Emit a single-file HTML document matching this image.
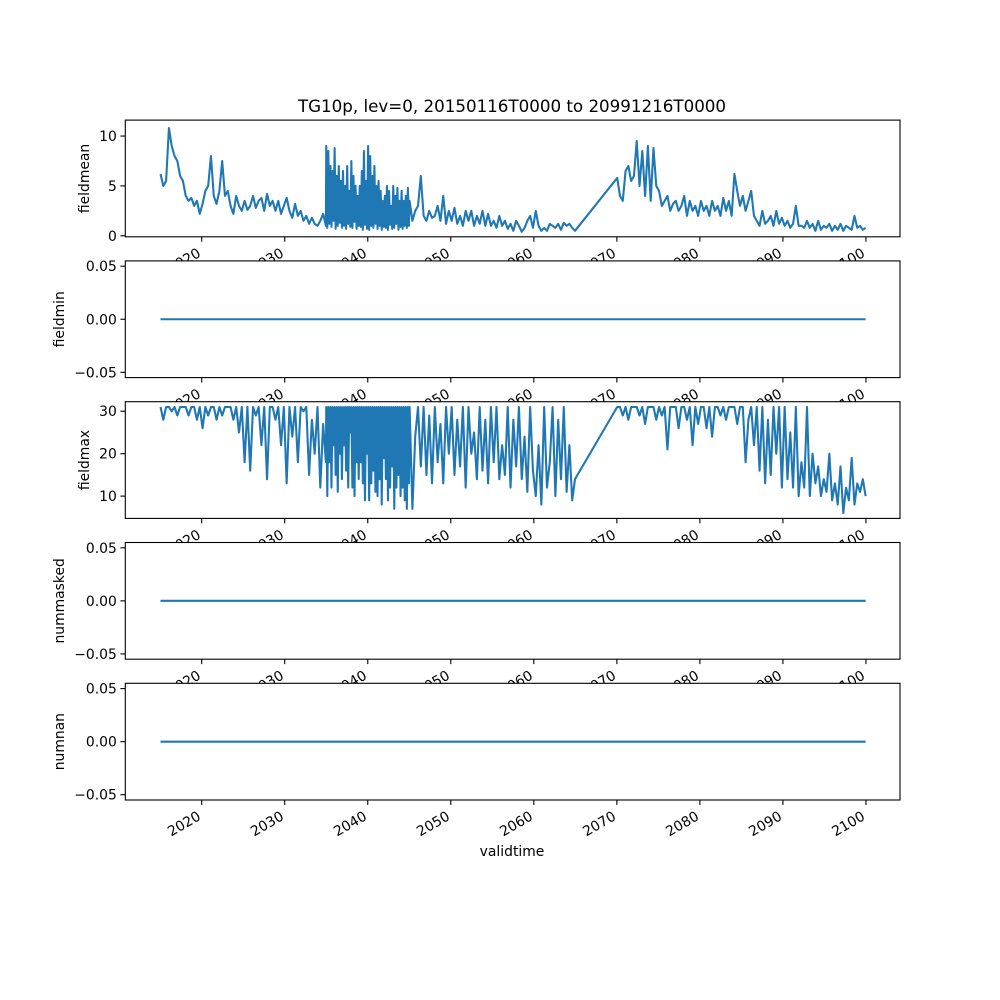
<!DOCTYPE html>
<html><head><meta charset="utf-8"><style>
html,body{margin:0;padding:0;background:#fff}
svg{display:block;font-family:"DejaVu Sans","Liberation Sans",sans-serif}
</style></head><body>
<svg id="fig" width="1000" height="1000" viewBox="0 0 1000 1000">
<rect width="1000" height="1000" fill="#fff"/>
<text x="512" y="112" font-size="16.7" text-anchor="middle">TG10p, lev=0, 20150116T0000 to 20991216T0000</text>
</svg>
<script>
const xTicks = [2020,2030,2040,2050,2060,2070,2080,2090,2100];
const spanA = [2015.04, 2034.96];
const spanB = [2035.0, 2044.96];
const spanC = [2045.04, 2064.96];
const span2 = [2070.04, 2099.96];
const meanA = [6.2,5.0,5.5, 10.8,9.0,8.0, 7.5,6.0,5.5, 4.0,3.5,3.8, 3.0,3.5,2.2, 3.2,4.5,5.0, 8.0,4.0,3.2, 4.5,7.5,4.0, 4.5,3.0,2.2, 4.0,3.0,2.5,
3.5,2.6,3.0, 4.0,2.8,3.5, 3.8,2.5,4.2, 3.0,3.5,2.5, 3.5,2.2,3.0, 3.8,2.5,1.8, 3.2,2.0,2.5, 1.5,2.0,1.2, 1.8,1.2,1.0, 1.5,2.2,1.0];
const meanB = [9.0,0.8,8.5,1.2,7.0,0.9,6.5,1.5, 8.8,0.7,6.0,1.0,7.0,1.3,5.5,0.8, 6.5,1.0,5.0,0.7,7.0,1.2,4.5,0.9, 7.5,0.8,6.0,1.4,5.0,0.7,4.0,1.0,
5.0,0.9,6.5,0.6,8.5,1.1,5.5,0.7, 9.0,0.6,8.0,1.0,6.0,0.8,7.0,1.2, 5.0,0.7,5.5,1.0,4.5,0.6,3.5,0.9, 4.0,0.8,5.0,0.6,4.5,1.1,3.0,0.7,
5.0,0.8,4.0,1.2,4.8,0.6,3.5,0.9, 4.5,0.7,3.5,1.0,4.0,0.8,4.8,1.0];
const meanC = [3.5,1.5,2.5, 3.0,6.0,2.0, 1.5,2.5,1.8, 2.0,3.0,1.5, 4.0,1.2,2.5, 1.5,2.8,1.2, 2.0,1.0,2.5, 1.5,2.5,1.0, 2.0,1.2,2.5, 1.0,2.2,1.0,
1.5,0.8,2.0, 1.0,1.5,0.7, 1.2,0.5,1.5, 1.0,0.4,0.8, 1.5,2.0,0.8, 2.5,1.0,0.5, 0.8,0.5,1.2, 1.0,0.8,1.2, 0.6,1.3,1.0, 1.2,0.8,0.5];
const mean2 = [5.8,4.0,3.5, 6.5,7.0,5.5, 6.0,9.5,5.0, 8.5,4.0,9.0, 3.5,8.8,5.0, 4.5,3.0,3.5, 4.0,2.5,3.2, 3.5,2.5,3.0, 4.0,2.0,3.5, 2.5,3.0,2.0,
3.5,2.5,3.0, 2.0,3.5,2.5, 3.0,2.0,3.8, 2.5,3.5,2.0, 6.2,4.5,3.0, 4.0,2.5,3.5, 4.5,2.0,1.5, 1.0,2.5,1.2, 1.5,2.0,1.0, 2.5,1.2,1.8,
1.0,1.5,0.8, 1.2,3.0,1.0, 1.0,0.8,1.5, 0.8,1.2,0.5, 1.5,0.6,1.0, 0.8,1.2,0.5, 1.0,0.6,1.2, 0.5,1.0,0.8, 0.6,2.0,0.8, 1.0,0.6,0.8];
const maxA = [31,28,31, 31,30,31, 29,31,31, 31,29,31, 31,28,31, 26,31,29, 31,31,28, 31,29,31, 31,31,28, 31,25,31,
18,31,16, 31,29,31, 22,31,14, 31,31,28, 31,22,31, 13,31,24, 31,18,31, 30,31,15, 28,20,31, 12,27,18];
const maxB = [31,10,31,18,31,12,31,22, 31,15,31,11,31,20,31,14, 31,22,31,16,31,12,31,25, 31,12,31,10,31,18,31,14,
31,18,31,13,31,9,31,20, 31,9,31,13,31,16,31,11, 31,10,31,14,31,8,31,19, 31,14,31,9,31,12,31,17,
31,7,31,12,31,15,31,10, 31,12,31,9,31,7,31,13];
const maxC = [31,7,24, 31,17,31, 15,29,13, 31,18,27, 13,31,20, 31,15,28, 17,31,12, 31,20,25, 14,31,16, 28,13,31,
18,31,14, 22,15,31, 12,28,17, 31,14,24, 11,31,16, 10,22,8, 31,12,18, 31,10,28, 14,31,11, 22,9,14];
const max2 = [31,31,29, 31,28,31, 31,31,29, 31,27,31, 31,31,28, 31,29,31, 21,31,31, 31,26,31, 31,28,31, 22,31,27,
31,31,26, 31,24,31, 31,29,31, 28,31,31, 31,27,31, 31,18,28, 31,22,31, 16,31,13, 28,15,31, 20,31,12,
31,14,25, 12,31,10, 18,12,31, 10,20,13, 17,10,14, 11,20,9, 13,8,17, 6,12,9, 19,8,13, 11,14,10];
const zeroSeries = [0, 0];
const zeroYears = [2015.04, 2099.96];

const panels = [
  {name:'fieldmean', ylim:[-0.1,11.6], ticks:[0,5,10], fmt:v=>String(v), labelX:84},
  {name:'fieldmin', ylim:[-0.055,0.055], ticks:[-0.05,0,0.05], fmt:v=>v.toFixed(2).replace('-','\u2212'), labelX:59},
  {name:'fieldmax', ylim:[4.75,32.25], ticks:[10,20,30], fmt:v=>String(v), labelX:84},
  {name:'nummasked', ylim:[-0.055,0.055], ticks:[-0.05,0,0.05], fmt:v=>v.toFixed(2).replace('-','\u2212'), labelX:59},
  {name:'numnan', ylim:[-0.055,0.055], ticks:[-0.05,0,0.05], fmt:v=>v.toFixed(2).replace('-','\u2212'), labelX:59}
];
const NS='http://www.w3.org/2000/svg';
const svg=document.getElementById('fig');
const L=125.3, R=900, H=116.7, xmin=2010.8, xmax=2104.1;
const tops=[120.1,260.9,401.7,542.5,683.3];
function xs(v){return L+(v-xmin)/(xmax-xmin)*(R-L);}
function mk(tag,attrs,parent){const e=document.createElementNS(NS,tag);for(const k in attrs)e.setAttribute(k,attrs[k]);(parent||svg).appendChild(e);return e;}
function segTimes(span,n){const t=[];for(let i=0;i<n;i++)t.push(span[0]+i*(span[1]-span[0])/(n-1));return t;}
function build(parts){let t=[],v=[];parts.forEach(([s,a])=>{t=t.concat(segTimes(s,a.length));v=v.concat(a);});return [t,v];}

panels.forEach((p,pi)=>{
  const top=tops[pi], bot=top+H;
  const ys=v=>bot-(v-p.ylim[0])/(p.ylim[1]-p.ylim[0])*H;
  const g=mk('g',{});
  
  
  mk('rect',{x:L,y:top,width:R-L,height:H,fill:'#fff'},g);
  let tv;
  if(pi===0) tv=build([[spanA,meanA],[spanB,meanB],[spanC,meanC],[span2,mean2]]);
  else if(pi===2) tv=build([[spanA,maxA],[spanB,maxB],[spanC,maxC],[span2,max2]]);
  else tv=[zeroYears, zeroSeries];
  const [t,v]=tv;
  let d='';
  for(let i=0;i<v.length;i++) d+=(i?'L':'M')+xs(t[i]).toFixed(2)+','+ys(v[i]).toFixed(2);
  const path=mk('path',{d:d,fill:'none',stroke:'#1f77b4','stroke-width':2.08,'stroke-linejoin':'round'},g);
  
  
  mk('rect',{x:L,y:top,width:R-L,height:H,fill:'none',stroke:'#000','stroke-width':1.1},g);
  p.ticks.forEach(tk=>{
    const y=ys(tk);
    mk('line',{x1:L,x2:L-4.9,y1:y,y2:y,stroke:'#000','stroke-width':1.1},g);
    const tx=mk('text',{x:L-8.5,y:y+5,'font-size':13.9,'text-anchor':'end'},g);
    tx.textContent=p.fmt(tk);
    
    
  });
  const yl=mk('text',{x:0,y:0,'font-size':13.9,'text-anchor':'middle',transform:`translate(${p.labelX+5},${top+H/2}) rotate(-90)`},g);
  yl.textContent=p.name;
  
  
  xTicks.forEach(yr=>{
    const x=xs(yr);
    mk('line',{x1:x,x2:x,y1:bot,y2:bot+4.9,stroke:'#000','stroke-width':1.1},g);
    const tx=mk('text',{x:0,y:0,'font-size':13.9,'text-anchor':'end',transform:`translate(${x},${bot+19}) rotate(-30)`},g);
    tx.textContent=String(yr);
    
    
  });
});
const xl=mk('text',{x:512,y:856,'font-size':13.9,'text-anchor':'middle'});
xl.textContent='validtime';


</script>
</body></html>
